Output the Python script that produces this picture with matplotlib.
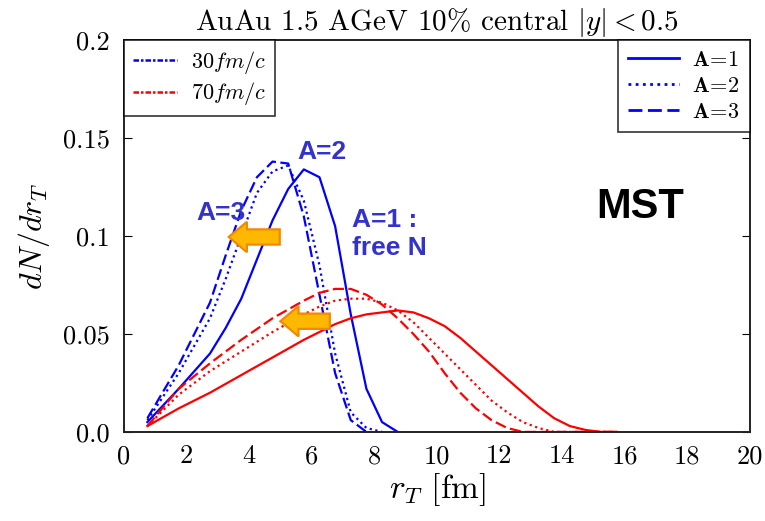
import matplotlib
matplotlib.use("Agg")
import matplotlib.pyplot as plt
from matplotlib.lines import Line2D
from matplotlib.patches import FancyArrow
import numpy as np

plt.rcParams['font.family'] = 'serif'
plt.rcParams['font.serif'] = ['cmr10', 'DejaVu Serif']
plt.rcParams['mathtext.fontset'] = 'cm'
plt.rcParams['axes.unicode_minus'] = False

# ---- data ----
# 30 fm/c (blue)
r_b1 = [0.75, 1.75, 2.75, 3.25, 3.75, 4.25, 4.75, 5.25, 5.75, 6.25, 6.75, 7.25, 7.75, 8.25, 8.75]
b_A1 = [0.005, 0.022, 0.040, 0.053, 0.068, 0.088, 0.108, 0.124, 0.134, 0.130, 0.105, 0.060, 0.022, 0.005, 0.0]
r_b2 = [0.75, 1.75, 2.25, 2.75, 3.25, 3.75, 4.25, 4.75, 5.25, 5.75, 6.25, 6.75, 7.25, 7.75, 8.25]
b_A2 = [0.006, 0.030, 0.044, 0.058, 0.078, 0.100, 0.122, 0.133, 0.136, 0.118, 0.085, 0.040, 0.010, 0.002, 0.0]
r_b3 = [0.75, 1.75, 2.25, 2.75, 3.25, 3.75, 4.25, 4.75, 5.25, 5.75, 6.25, 6.75, 7.25, 7.75]
b_A3 = [0.007, 0.034, 0.050, 0.066, 0.090, 0.113, 0.130, 0.138, 0.137, 0.110, 0.070, 0.030, 0.006, 0.0]

# 70 fm/c (red)
r_red = [0.75, 1.75, 2.75, 3.75, 4.75, 5.75, 6.25, 6.75, 7.25, 7.75, 8.25, 8.75, 9.25, 9.75,
         10.25, 10.75, 11.25, 11.75, 12.25, 12.75, 13.25, 13.75, 14.25, 14.75, 15.25, 15.75]
r_A1 = [0.003, 0.012, 0.020, 0.029, 0.038, 0.047, 0.051, 0.055, 0.058, 0.060, 0.061, 0.062, 0.061, 0.058,
        0.054, 0.048, 0.041, 0.034, 0.027, 0.020, 0.013, 0.007, 0.003, 0.001, 0.0, 0.0]
r_A2 = [0.003, 0.019, 0.031, 0.041, 0.051, 0.060, 0.064, 0.067, 0.068, 0.068, 0.066, 0.062, 0.056, 0.048,
        0.040, 0.032, 0.024, 0.016, 0.010, 0.005, 0.002, 0.0, 0.0, 0.0, 0.0, 0.0]
r_A3 = [0.003, 0.022, 0.035, 0.047, 0.058, 0.067, 0.071, 0.073, 0.073, 0.070, 0.065, 0.058, 0.050, 0.041,
        0.030, 0.020, 0.012, 0.006, 0.002, 0.0, 0.0, 0.0, 0.0, 0.0, 0.0, 0.0]

xticks = [0, 2, 4, 6, 8, 10, 12, 14, 16, 18, 20]
yticks = [0.0, 0.05, 0.1, 0.15, 0.2]
ytick_labels = ['0.0', '0.05', '0.1', '0.15', '0.2']

BLUE = '#0000ff'
RED = '#ff0000'
dotted = (0, (1, 1.6))
dashed = (0, (5, 2))

fig = plt.figure(figsize=(7.65, 5.21), dpi=100)
ax = fig.add_axes([0.162, 0.171, 0.818, 0.752])

lw = 1.6
ax.plot(r_b1, b_A1, color=BLUE, lw=lw, ls='-')
ax.plot(r_b2, b_A2, color=BLUE, lw=lw, ls=dotted)
ax.plot(r_b3, b_A3, color=BLUE, lw=lw, ls=dashed)
ax.plot(r_red, r_A1, color=RED, lw=lw, ls='-')
ax.plot(r_red, r_A2, color=RED, lw=lw, ls=dotted)
ax.plot(r_red, r_A3, color=RED, lw=lw, ls=dashed)

ax.set_xlim(0, 20)
ax.set_ylim(0, 0.2)
ax.set_xticks(xticks)
ax.set_xticklabels([str(t) for t in xticks])
ax.set_yticks(yticks)
ax.set_yticklabels(ytick_labels)
ax.tick_params(axis='x', length=0, labelsize=19, pad=9)
ax.tick_params(axis='y', direction='in', length=6, right=True, labelsize=19, pad=10)
for s in ax.spines.values():
    s.set_linewidth(1.4)
    s.set_color('#222222')

ax.set_title(r'AuAu 1.5 AGeV 10% central $|y|<0.5$', fontsize=21, pad=7)
ax.set_xlabel(r'$r_T$ [fm]', fontsize=24, labelpad=2)
ax.set_ylabel(r'$dN/dr_T$', fontsize=23, labelpad=8)

# legends
dd = (0, (2.2, 0.8, 1, 0.8))
h_time = [Line2D([], [], color=BLUE, lw=1.8, ls=dd),
          Line2D([], [], color=RED, lw=1.8, ls=dd)]
leg1 = ax.legend(h_time, [r'$30fm/c$', r'$70fm/c$'], loc='upper left',
                 fontsize=16, frameon=True, fancybox=False, edgecolor='black',
                 borderaxespad=0, handlelength=2.0, borderpad=0.4, labelspacing=0.2,
                 handletextpad=0.6)
leg1.get_frame().set_linewidth(1.2)
ax.add_artist(leg1)
h_A = [Line2D([], [], color=BLUE, lw=2, ls='-'),
       Line2D([], [], color=BLUE, lw=2, ls=dotted),
       Line2D([], [], color=BLUE, lw=2, ls=dashed)]
leg2 = ax.legend(h_A, [r'$\mathbf{A\!=\!1}$', r'$\mathbf{A\!=\!2}$', r'$\mathbf{A\!=\!3}$'],
                 loc='upper right', fontsize=16, frameon=True, fancybox=False,
                 edgecolor='black', borderaxespad=0, handlelength=2.3,
                 borderpad=0.45, labelspacing=0.3, handletextpad=0.6)
leg2.get_frame().set_linewidth(1.2)

# annotations
TXT = '#3333cc'
afont = dict(family='Liberation Sans', fontweight='bold', color=TXT, fontsize=19)
ax.text(5.55, 0.143, 'A=2', ha='left', va='center', **afont)
ax.text(3.1, 0.112, 'A=3', ha='center', va='center', **afont)
ax.text(7.3, 0.108, 'A=1 :', ha='left', va='center', **afont)
ax.text(7.3, 0.094, 'free N', ha='left', va='center', **afont)
ax.text(16.5, 0.115, 'MST', ha='center', va='center', family='Liberation Sans',
        fontweight='bold', color='black', fontsize=30)

for (x0, x1, y) in [(4.98, 3.35, 0.0995), (6.58, 5.0, 0.0565)]:
    ar = FancyArrow(x0, y, x1 - x0, 0, width=0.0078, head_width=0.0155,
                    head_length=0.58, length_includes_head=True,
                    facecolor='#ffb800', edgecolor='#f08a00', lw=1.6, zorder=5)
    ax.add_patch(ar)

fig.savefig('out.png', dpi=100)
